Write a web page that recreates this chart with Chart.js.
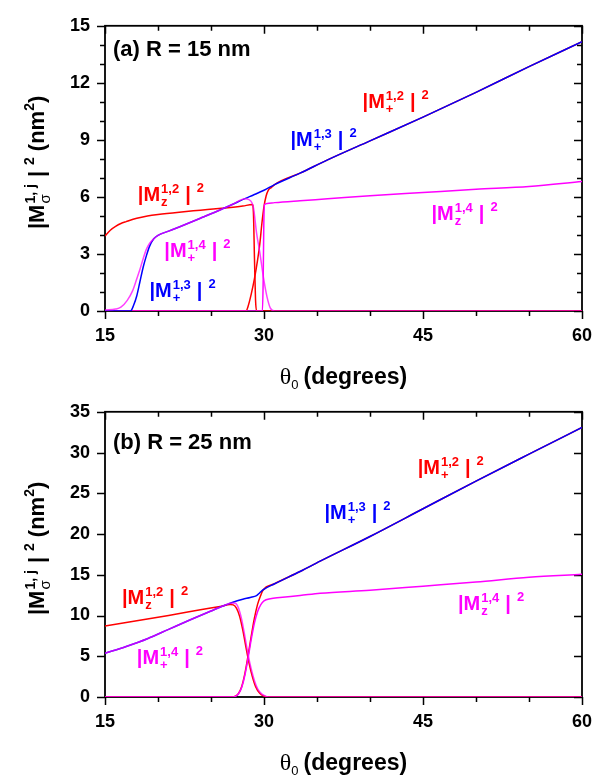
<!DOCTYPE html>
<html>
<head>
<meta charset="utf-8">
<script src="https://cdn.jsdelivr.net/npm/chart.js@4.4.1/dist/chart.umd.min.js"></script>
<style>
  html, body { margin: 0; padding: 0; background: #fff; }
  body { width: 613px; height: 780px; position: relative; overflow: hidden; }
  canvas { position: absolute; left: 0; }
  #chartA { top: 0; }
  #chartB { top: 386px; }
</style>
</head>
<body>
<canvas id="chartA" width="613" height="390"></canvas>
<canvas id="chartB" width="613" height="390"></canvas>
<script>
const RED = '#ff0000';
const BLUE = '#0000ff';
const MAGENTA = '#ff00ff';
const SANS = '"Liberation Sans", Arial, sans-serif';
const SERIF = '"Liberation Serif", "Times New Roman", serif';

// ---- panel (a), R = 15 nm ----
const aZ12x = [15, 15.5, 16, 16.5, 17, 18, 19, 20, 22, 24, 26, 28, 28.9, 29.0, 29.1, 29.2, 29.3, 30, 35, 40, 45, 50, 55, 60];
const aZ12y = [3.95, 4.25, 4.45, 4.6, 4.7, 4.88, 5.0, 5.08, 5.2, 5.3, 5.4, 5.52, 5.6, 5.2, 2.8, 0.6, 0, 0, 0, 0, 0, 0, 0, 0];

const aP12x = [15, 20, 25, 28.3, 28.5, 28.8, 29.1, 29.4, 29.6, 29.8, 30.0, 30.2, 30.4, 30.7, 31, 33.4, 36, 40, 45, 50, 55, 60];
const aP12y = [0, 0, 0, 0, 0.25, 0.9, 1.7, 2.7, 3.5, 4.6, 5.5, 6.05, 6.35, 6.5, 6.65, 7.25, 7.95, 8.95, 10.2, 11.5, 12.85, 14.16];

const aP13x = [15, 17, 17.4, 17.7, 18.0, 18.3, 18.6, 18.9, 19.2, 19.6, 20, 21, 22, 24, 26, 27, 28.2, 29, 30, 31, 33.4, 36, 40, 45, 50, 55, 60];
const aP13y = [0, 0, 0, 0.3, 0.8, 1.55, 2.3, 2.9, 3.4, 3.8, 3.98, 4.2, 4.42, 4.88, 5.35, 5.6, 5.91, 6.1, 6.35, 6.65, 7.25, 7.95, 8.95, 10.2, 11.5, 12.85, 14.16];

const aP14x = [15, 16, 16.5, 17.1, 17.6, 18.0, 18.3, 18.6, 18.9, 19.2, 19.6, 20, 21, 22, 24, 26, 27, 28.2, 28.6, 29.0, 29.3, 29.6, 29.95, 30.3, 30.6, 31, 35, 40, 45, 50, 55, 60];
const aP14y = [0.05, 0.1, 0.2, 0.56, 1.06, 1.7, 2.2, 2.75, 3.24, 3.55, 3.8, 3.98, 4.2, 4.42, 4.88, 5.35, 5.6, 5.91, 5.85, 5.45, 4.1, 3.1, 1.75, 0.7, 0.15, 0, 0, 0, 0, 0, 0, 0];

const aZ14x = [15, 20, 25, 29.85, 29.92, 29.98, 30.05, 30.3, 31, 33.4, 36, 40, 45, 50, 55, 60];
const aZ14y = [0, 0, 0, 0, 1.5, 4.5, 5.6, 5.66, 5.7, 5.8, 5.9, 6.06, 6.23, 6.4, 6.55, 6.81];

// ---- panel (b), R = 25 nm ----
const bZ12x = [15, 18, 21, 24, 26, 26.8, 27.1, 27.4, 27.7, 28.0, 28.3, 28.6, 28.9, 29.2, 29.6, 30.0, 30.4, 35, 40, 45, 50, 55, 60];
const bZ12y = [8.7, 9.35, 10.0, 10.7, 11.15, 11.35, 11.3, 10.9, 9.9, 8.2, 6.1, 4.1, 2.5, 1.3, 0.45, 0.1, 0, 0, 0, 0, 0, 0, 0];

const bP12x = [15, 20, 25, 27.0, 27.3, 27.6, 27.9, 28.2, 28.5, 28.8, 29.1, 29.4, 29.7, 29.9, 31, 33.4, 35.3, 40, 45, 50, 55, 60];
const bP12y = [0, 0, 0, 0, 0.1, 0.45, 1.3, 2.9, 5.1, 7.5, 9.7, 11.4, 12.5, 13.1, 13.9, 15.4, 16.67, 19.7, 23.1, 26.5, 29.8, 33.07];

const bP13x = [15, 17, 19, 21, 23, 25, 26, 27, 28, 28.7, 29.3, 29.6, 29.9, 31, 33.4, 35.3, 40, 45, 50, 55, 60];
const bP13y = [5.36, 6.2, 7.15, 8.3, 9.45, 10.55, 11.1, 11.6, 12.0, 12.22, 12.45, 12.8, 13.15, 13.9, 15.4, 16.67, 19.7, 23.1, 26.5, 29.8, 33.07];

const bP14x = [15, 17, 19, 21, 23, 25, 26, 27.0, 27.3, 27.6, 27.9, 28.2, 28.5, 28.8, 29.1, 29.4, 29.8, 30.2, 30.6, 35, 40, 45, 50, 55, 60];
const bP14y = [5.36, 6.2, 7.15, 8.3, 9.45, 10.55, 11.1, 11.55, 11.5, 10.9, 9.5, 7.4, 5.2, 3.4, 2.0, 1.0, 0.35, 0.08, 0, 0, 0, 0, 0, 0, 0];

const bZ14x = [15, 20, 25, 27.0, 27.3, 27.6, 27.9, 28.2, 28.5, 28.8, 29.1, 29.4, 29.7, 30.0, 30.6, 31.5, 33.4, 35.3, 40, 45, 50, 55, 60];
const bZ14y = [0, 0, 0, 0, 0.08, 0.4, 1.2, 2.7, 4.8, 7.1, 9.1, 10.5, 11.35, 11.8, 12.06, 12.2, 12.45, 12.73, 13.1, 13.6, 14.1, 14.7, 15.05];

// axis ticks
const xTicks = { min: 15, max: 60, major: 15, minor: 5 };
const aYTicks = { min: 0, max: 15, major: 3, minor: 1 };
const bYTicks = { min: 0, max: 35, major: 5, minor: 5 };

// in-plot labels, placed in data units (theta, value)
const aNotes = [
  { sup: '1,2', sub: 'z', color: RED, x: 18.1, y: 5.78 },
  { sup: '1,4', sub: '+', color: MAGENTA, x: 20.6, y: 2.84 },
  { sup: '1,3', sub: '+', color: BLUE, x: 19.2, y: 0.76 },
  { sup: '1,3', sub: '+', color: BLUE, x: 32.5, y: 8.67 },
  { sup: '1,2', sub: '+', color: RED, x: 39.3, y: 10.69 },
  { sup: '1,4', sub: 'z', color: MAGENTA, x: 45.8, y: 4.76 }
];
const bNotes = [
  { sup: '1,2', sub: 'z', color: RED, x: 16.6, y: 11.47 },
  { sup: '1,4', sub: '+', color: MAGENTA, x: 18.0, y: 4.02 },
  { sup: '1,3', sub: '+', color: BLUE, x: 35.7, y: 21.88 },
  { sup: '1,2', sub: '+', color: RED, x: 44.5, y: 27.31 },
  { sup: '1,4', sub: 'z', color: MAGENTA, x: 48.3, y: 10.64 }
];

function pts(xs, ys) {
  return xs.map((x, i) => ({ x: x, y: ys[i] }));
}

function line(data, color) {
  return {
    data: data,
    borderColor: color,
    borderWidth: 1.5,
    pointRadius: 0,
    fill: false,
    cubicInterpolationMode: 'monotone'
  };
}

function curveLabel(ctx, x, y, sup, sub, color) {
  ctx.fillStyle = color;
  ctx.textAlign = 'left';
  ctx.textBaseline = 'alphabetic';
  ctx.font = 'bold 20px ' + SANS;
  ctx.fillText('|M', x, y);
  let cx = x + ctx.measureText('|M').width + 1;
  ctx.font = 'bold 13px ' + SANS;
  ctx.fillText(sup, cx, y - 8);
  ctx.fillText(sub, cx, y + 5);
  cx += Math.max(ctx.measureText(sup).width, ctx.measureText(sub).width) + 6;
  ctx.font = 'bold 20px ' + SANS;
  ctx.fillText('|', cx, y);
  cx += ctx.measureText('|').width + 6;
  ctx.font = 'bold 13px ' + SANS;
  ctx.fillText('2', cx, y - 9);
}

// draws text runs; a run is [text, font, dy, extraGap, stackedWith]
function runs(ctx, parts, x, y, measureOnly) {
  let cx = x;
  parts.forEach(p => {
    ctx.font = p[1];
    let w = ctx.measureText(p[0]).width;
    if (!measureOnly) ctx.fillText(p[0], cx, y + p[2]);
    if (p[4]) {
      ctx.font = p[4][1];
      if (!measureOnly) ctx.fillText(p[4][0], cx, y + p[4][2]);
      w = Math.max(w, ctx.measureText(p[4][0]).width);
    }
    cx += w + (p[3] || 0);
  });
  return cx - x;
}

const xTitle = [
  ['\u03b8', '24px ' + SERIF, 0],
  ['0', '13px ' + SANS, 5, 5],
  ['(degrees)', 'bold 23px ' + SANS, 0]
];
const yTitle = [
  ['|M', 'bold 22px ' + SANS, 0, 1],
  ['1, j', 'bold 14px ' + SANS, -9, 7, ['\u03c3', '15px ' + SANS, 6]],
  ['|', 'bold 22px ' + SANS, 0, 6],
  ['2', 'bold 14px ' + SANS, -10, 6],
  ['(nm', 'bold 22px ' + SANS, 0],
  ['2', 'bold 14px ' + SANS, -10],
  [')', 'bold 22px ' + SANS, 0]
];

const framePlugin = {
  id: 'frame',
  beforeDatasetsDraw(chart, args, opts) {
    const { ctx, chartArea: a, scales } = chart;
    const x = scales.x, y = scales.y;
    ctx.save();
    ctx.strokeStyle = '#000';
    ctx.lineWidth = 1.8;
    ctx.strokeRect(a.left, a.top, a.right - a.left, a.bottom - a.top);
    ctx.lineWidth = 1.5;
    ctx.beginPath();
    for (let v = xTicks.min; v <= xTicks.max + 1e-9; v += xTicks.minor) {
      const px = Math.round(x.getPixelForValue(v)) + 0.5;
      const L = Math.abs((v - xTicks.min) % xTicks.major) < 1e-9 ? 8 : 5;
      ctx.moveTo(px, a.bottom); ctx.lineTo(px, a.bottom + L);
      ctx.moveTo(px, a.top); ctx.lineTo(px, a.top + L);
    }
    const yt = opts.yTicks;
    for (let v = yt.min; v <= yt.max + 1e-9; v += yt.minor) {
      const py = Math.round(y.getPixelForValue(v)) + 0.5;
      const L = Math.abs(v % yt.major) < 1e-9 ? 8 : 5;
      ctx.moveTo(a.left - L, py); ctx.lineTo(a.left, py);
      ctx.moveTo(a.right - L, py); ctx.lineTo(a.right, py);
    }
    ctx.stroke();
    ctx.restore();
  },
  afterDraw(chart, args, opts) {
    const { ctx, chartArea: a, scales } = chart;
    const x = scales.x, y = scales.y;
    ctx.save();
    // panel title
    ctx.fillStyle = '#000';
    ctx.textAlign = 'left';
    ctx.textBaseline = 'alphabetic';
    ctx.font = 'bold 22px ' + SANS;
    ctx.fillText(opts.title, x.getPixelForValue(opts.titleAt[0]), y.getPixelForValue(opts.titleAt[1]));
    // curve labels
    opts.notes.forEach(n => {
      curveLabel(ctx, x.getPixelForValue(n.x), y.getPixelForValue(n.y), n.sup, n.sub, n.color);
    });
    // x title
    ctx.fillStyle = '#000';
    const xw = runs(ctx, xTitle, 0, 0, true);
    runs(ctx, xTitle, (a.left + a.right) / 2 - xw / 2, a.bottom + 73);
    // y title, rotated
    const yw = runs(ctx, yTitle, 0, 0, true);
    ctx.translate(44, (a.top + a.bottom) / 2 - 6);
    ctx.rotate(-Math.PI / 2);
    runs(ctx, yTitle, -yw / 2, 0);
    ctx.restore();
  }
};

function makeChart(id, datasets, yt, title, titleAt, notes) {
  return new Chart(document.getElementById(id), {
    type: 'line',
    data: { datasets: datasets },
    options: {
      responsive: false,
      animation: false,
      layout: { padding: { left: 0, right: 31, top: 15, bottom: 0 } },
      plugins: {
        legend: { display: false },
        tooltip: { enabled: false },
        frame: { yTicks: yt, title: title, titleAt: titleAt, notes: notes }
      },
      scales: {
        x: {
          type: 'linear',
          min: xTicks.min,
          max: xTicks.max,
          afterFit: s => { s.height = 79; },
          grid: { display: false, drawTicks: false },
          border: { display: false },
          ticks: {
            stepSize: xTicks.major,
            maxRotation: 0,
            padding: 14,
            color: '#000',
            font: { family: SANS, size: 18, weight: 'bold' }
          }
        },
        y: {
          type: 'linear',
          min: yt.min,
          max: yt.max,
          afterFit: s => { s.width = 105; },
          grid: { display: false, drawTicks: false },
          border: { display: false },
          ticks: {
            stepSize: yt.major,
            padding: 15,
            color: '#000',
            font: { family: SANS, size: 18, weight: 'bold' }
          }
        }
      }
    },
    plugins: [framePlugin]
  });
}

makeChart('chartA', [
  line(pts(aP14x, aP14y), 'rgba(255,0,255,0.75)'),
  line(pts(aP13x, aP13y), BLUE),
  line(pts(aZ14x, aZ14y), MAGENTA),
  line(pts(aP12x, aP12y), RED),
  line(pts(aZ12x, aZ12y), RED)
], aYTicks, '(a) R = 15 nm', [15.75, 13.43], aNotes);

makeChart('chartB', [
  line(pts(bP14x, bP14y), 'rgba(255,0,255,0.75)'),
  line(pts(bP13x, bP13y), BLUE),
  line(pts(bZ14x, bZ14y), MAGENTA),
  line(pts(bP12x, bP12y), RED),
  line(pts(bZ12x, bZ12y), RED)
], bYTicks, '(b) R = 25 nm', [15.75, 30.39], bNotes);
</script>
</body>
</html>
